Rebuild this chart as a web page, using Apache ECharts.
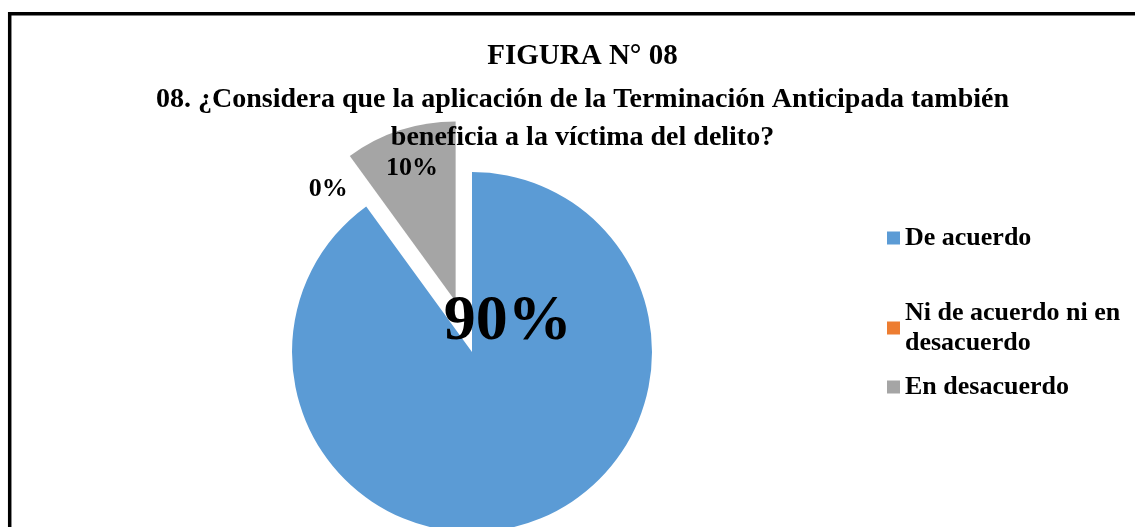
<!DOCTYPE html>
<html>
<head>
<meta charset="utf-8">
<script src="https://cdn.jsdelivr.net/npm/echarts@6/dist/echarts.min.js"></script>
<style>
  html, body { margin: 0; padding: 0; overflow: hidden; background: #fff; }
  #main { width: 1165px; height: 527px; }
</style>
</head>
<body>
<div id="main"></div>
<script>
'use strict';

// categorias y valores (conteo en %)
var categorias = ['De acuerdo', 'Ni de acuerdo ni en desacuerdo', 'En desacuerdo'];
var valores = [90, 0, 10];
var colores = ['#5B9BD5', '#ED7D31', '#A5A5A5'];

var titulo = 'FIGURA N° 08';
var pregunta = '08. ¿Considera que la aplicación de la Terminación Anticipada también\nbeneficia a la víctima del delito?';

var fuente = '"Liberation Serif", "Times New Roman", serif';

// desplazamiento de cada etiqueta respecto a su posicion "inside"
var ajusteEtiqueta = [[7, -118], [-89, -87], [-15, -45]];
var tamEtiqueta = [64, 26, 26];

var datos = categorias.map(function (nombre, i) {
    return {
        name: nombre,
        value: valores[i],
        selected: i === 2,
        itemStyle: { color: colores[i] },
        label: { fontSize: tamEtiqueta[i] }
    };
});

function leyenda(nombre, top, lineH) {
    return {
        data: [nombre],
        orient: 'vertical',
        left: 887,
        top: top,
        padding: 0,
        icon: 'rect',
        itemWidth: 13,
        itemHeight: 13,
        selectedMode: false,
        textStyle: {
            fontFamily: fuente,
            fontWeight: 'bold',
            fontSize: 26,
            lineHeight: lineH,
            color: '#000',
            width: 228,
            overflow: 'break'
        }
    };
}

var chart = echarts.init(document.getElementById('main'));

var option = {
    animation: false,
    backgroundColor: '#fff',
    title: [
        {
            text: titulo,
            left: 'center',
            top: 42,
            padding: 0,
            textStyle: { fontFamily: fuente, fontWeight: 'bold', fontSize: 29, color: '#000' }
        },
        {
            text: pregunta,
            left: 'center',
            top: 81,
            padding: 0,
            textStyle: { fontFamily: fuente, fontWeight: 'bold', fontSize: 28, lineHeight: 38, color: '#000' }
        }
    ],
    legend: [
        leyenda(categorias[0], 223, 30),
        leyenda(categorias[1], 298, 30),
        leyenda(categorias[2], 372, 30)
    ],
    graphic: [
        {
            type: 'rect',
            silent: true,
            shape: { x: 9.7, y: 13.7, width: 1300, height: 700 },
            style: { fill: null, stroke: '#000', lineWidth: 3.5 }
        }
    ],
    series: [
        {
            type: 'pie',
            center: [472, 352],
            radius: 180,
            startAngle: 90,
            clockwise: true,
            selectedMode: 'single',
            selectedOffset: 53,
            avoidLabelOverlap: false,
            label: {
                show: true,
                position: 'inside',
                formatter: '{d}%',
                fontFamily: fuente,
                fontWeight: 'bold',
                color: '#000'
            },
            labelLine: { show: false },
            labelLayout: function (p) {
                var a = ajusteEtiqueta[p.dataIndex];
                return { dx: a[0], dy: a[1] };
            },
            emphasis: { disabled: true },
            itemStyle: { borderWidth: 0 },
            data: datos
        }
    ]
};

chart.setOption(option);
</script>
</body>
</html>
